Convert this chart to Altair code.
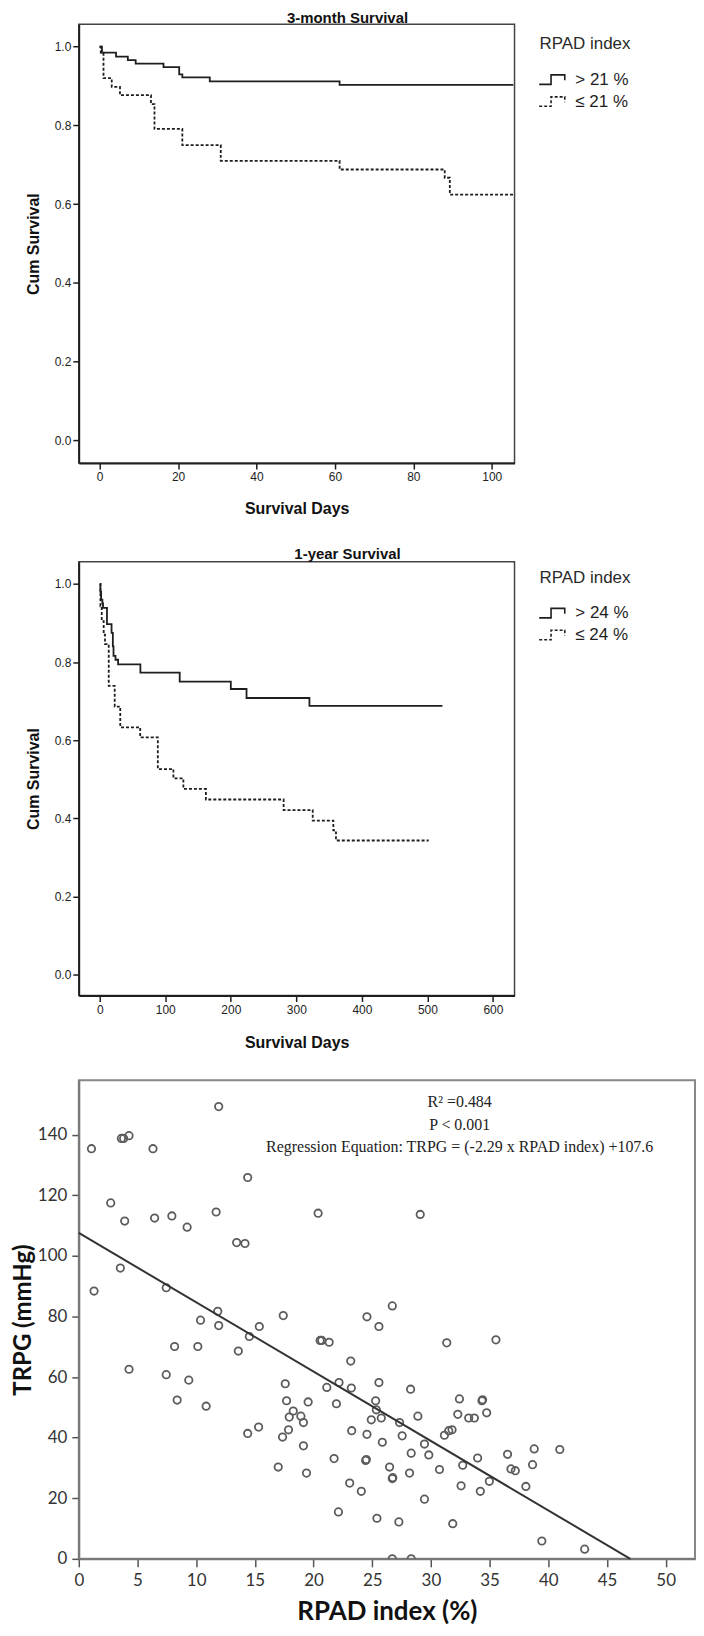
import altair as alt
import pandas as pd

# ---------------- Panel 1: 3-month survival ----------------
m3_groups = ["> 21 %", "\u2264 21 %"]
m3_hi_days = [0, 0.6, 4.2, 7.2, 9.2, 16.3, 20.3, 21.1, 28.1, 61.2, 105.5]
m3_hi_surv = [1.0, 0.985, 0.975, 0.966, 0.957, 0.948, 0.93, 0.922, 0.912, 0.903, 0.903]
m3_lo_days = [0, 0.3, 1.0, 3.1, 5.2, 13.1, 14.0, 21.1, 30.9, 61.2, 88.0, 89.3, 105.5]
m3_lo_surv = [1.0, 0.985, 0.92, 0.898, 0.877, 0.854, 0.791, 0.75, 0.71, 0.688, 0.667, 0.624, 0.624]

# ---------------- Panel 2: 1-year survival ----------------
y1_groups = ["> 24 %", "\u2264 24 %"]
y1_hi_days = [0, 1, 2, 4, 5, 11, 18, 20, 21, 24, 28, 62, 122, 200, 224, 320, 523]
y1_hi_surv = [1.0, 0.98, 0.96, 0.95, 0.939, 0.897, 0.875, 0.84, 0.816, 0.806, 0.794,
              0.773, 0.75, 0.731, 0.708, 0.688, 0.688]
y1_lo_days = [0, 1, 3, 6, 8, 13.7, 22.8, 31.3, 61.7, 88.6, 112.4, 127.6, 162, 280.6,
              325, 356.5, 360.5, 502]
y1_lo_surv = [1.0, 0.943, 0.905, 0.87, 0.846, 0.739, 0.686, 0.633, 0.607, 0.526, 0.502,
              0.475, 0.448, 0.421, 0.394, 0.369, 0.343, 0.343]

# ---------------- Panel 3: TRPG vs RPAD index ----------------
rpad = [1.08, 1.30, 2.72, 3.54, 3.63, 3.82, 4.28, 3.91, 4.28, 6.32, 6.46, 7.45, 7.45, 7.93,
        8.16, 8.38, 9.23, 9.37, 10.37, 10.14, 10.85, 11.70, 11.92, 11.84, 11.92, 13.45,
        14.16, 13.59, 14.39, 14.53, 14.39, 15.32, 15.38, 17.42, 16.99, 17.36, 17.59, 17.70,
        17.87, 17.93, 18.27, 18.92, 19.14, 19.54, 19.14, 19.40, 20.39, 20.56, 20.70, 21.33,
        21.13, 21.75, 21.95, 22.12, 22.17, 23.17, 23.22, 23.25, 23.08, 24.07,
        24.55, 25.57, 26.71, 25.57, 25.29, 25.35, 24.92, 25.77, 24.55, 25.86, 24.44, 24.50,
        26.48, 26.71, 26.75, 25.40, 27.27, 26.71, 28.32, 27.33, 27.55, 28.32, 28.18, 28.27,
        28.89, 29.09, 29.45, 29.82, 29.45, 30.73, 31.15, 31.52, 31.80, 31.35, 31.86, 32.43,
        32.29, 32.71, 32.57, 33.22, 33.70, 34.35, 34.40, 34.75, 33.98, 34.21, 34.98, 35.54,
        36.53, 36.82, 37.19, 38.09, 38.80, 38.66, 39.45, 40.98, 43.10]
trpg = [135.4, 88.4, 117.5, 96.0, 138.8, 138.8, 139.7, 111.5, 62.6, 135.4, 112.5, 89.5, 60.8,
        113.2, 70.1, 52.4, 109.5, 59.0, 78.8, 70.1, 50.4, 114.5, 149.3, 81.7, 77.0, 104.4,
        104.1, 68.6, 125.9, 73.4, 41.4, 43.5, 76.7, 80.3, 30.3, 40.2, 57.8, 52.2, 42.6, 46.8,
        48.8, 47.1, 45.0, 51.8, 37.3, 28.3, 114.1, 72.1, 72.1, 71.5, 56.6, 33.1, 51.2, 15.5,
        58.2, 65.3, 56.4, 42.3, 25.0, 22.3,
        79.9, 76.7, 83.5, 58.2, 52.2, 49.2, 45.9, 46.5, 41.1, 38.5, 32.5, 32.8, 30.3, 26.5,
        26.8, 13.4, 12.2, 0.0, 0.0, 45.0, 40.6, 34.9, 28.3, 56.0, 47.1, 113.7, 37.9, 34.3,
        19.7, 29.5, 40.8, 42.3, 42.6, 71.3, 11.6, 52.8, 47.7, 30.9, 24.1, 46.5, 46.5, 52.2,
        52.5, 48.2, 33.3, 22.3, 25.6, 72.3, 34.5, 29.7, 29.1, 23.9, 36.3, 31.1, 5.9, 36.1, 3.2]
reg_slope = -2.29
reg_intercept = 107.6
annotation = "R\u00b2 =0.484\nP < 0.001\nRegression Equation: TRPG = (-2.29 x RPAD index) +107.6"

SANS = "Liberation Sans"
INK = "#1e1e1e"
STEP_GLYPH = "M-1.1,0.38H-0.15V-0.38H0.95V0.05"


def km_frame(days_hi, surv_hi, days_lo, surv_lo, groups):
    return pd.concat([
        pd.DataFrame({"day": days_hi, "surv": surv_hi, "group": groups[0]}),
        pd.DataFrame({"day": days_lo, "surv": surv_lo, "group": groups[1]}),
    ], ignore_index=True)


def km_panel(df, title, groups, xdom, xticks, ydom, width, height, legend_y,
             title_offset, xtitle_pad):
    return alt.Chart(df).mark_line(interpolate="step-after", strokeWidth=1.8, color=INK).encode(
        x=alt.X("day:Q",
                scale=alt.Scale(domain=xdom, nice=False, zero=False),
                axis=alt.Axis(values=xticks, title="Survival Days", grid=False,
                              labelFont=SANS, labelFontSize=12, labelColor=INK, labelPadding=3,
                              labelFlush=False, tickSize=6, tickWidth=1.5, tickColor=INK,
                              domainColor=INK, domainWidth=1.8,
                              titleFont=SANS, titleFontSize=16, titleFontWeight="bold",
                              titleColor="#111", titlePadding=xtitle_pad)),
        y=alt.Y("surv:Q",
                scale=alt.Scale(domain=ydom, nice=False, zero=False),
                axis=alt.Axis(values=[0, 0.2, 0.4, 0.6, 0.8, 1.0], format=".1f",
                              title="Cum Survival", grid=False,
                              labelFont=SANS, labelFontSize=12, labelColor=INK, labelPadding=2,
                              tickSize=6, tickWidth=1.5, tickColor=INK,
                              domainColor=INK, domainWidth=1.8,
                              titleFont=SANS, titleFontSize=16, titleFontWeight="bold",
                              titleColor="#111", titlePadding=13)),
        strokeDash=alt.StrokeDash(
            "group:N",
            scale=alt.Scale(domain=groups, range=[[1, 0], [3, 2]]),
            legend=alt.Legend(title="RPAD index", orient="none", legendX=462, legendY=legend_y,
                              padding=0, symbolType=STEP_GLYPH, symbolSize=625,
                              symbolStrokeColor=INK, symbolStrokeWidth=1.6,
                              symbolFillColor="transparent", rowPadding=0,
                              labelFont=SANS, labelFontSize=17, labelColor=INK, labelOffset=9,
                              titleFont=SANS, titleFontSize=17, titleFontWeight="normal",
                              titleColor="#2a2a2a", titlePadding=13)),
    ).properties(
        width=width, height=height,
        title=alt.TitleParams(title, font=SANS, fontSize=15, fontWeight="bold", color="#111",
                              anchor="middle", frame="group", dx=51, offset=title_offset),
        view=alt.ViewBackground(stroke="#444", strokeWidth=1.5),
    )


df1 = km_frame(m3_hi_days, m3_hi_surv, m3_lo_days, m3_lo_surv, m3_groups)
df2 = km_frame(y1_hi_days, y1_hi_surv, y1_lo_days, y1_lo_surv, y1_groups)

p1 = km_panel(df1, "3-month Survival", m3_groups, [-5.3, 105.8], [0, 20, 40, 60, 80, 100],
              [-0.058, 1.057], 437, 440, 12, -2, 18)
p2 = km_panel(df2, "1-year Survival", y1_groups, [-32, 633], [0, 100, 200, 300, 400, 500, 600],
              [-0.054, 1.057], 437, 435, 8, 0, 19)

# Scatter panel
df3 = pd.DataFrame({"rpad": rpad, "trpg": trpg})
x_end = -reg_intercept / reg_slope
reg_df = pd.DataFrame({"rpad": [0.0, x_end],
                       "trpg": [reg_intercept, reg_intercept + reg_slope * x_end]})

SC_FONT = "Lato"
x3 = alt.X("rpad:Q", scale=alt.Scale(domain=[0, 52.5], nice=False),
           axis=alt.Axis(values=list(range(0, 51, 5)), title="RPAD index (%)", grid=False,
                         labelFont=SC_FONT, labelFontSize=17, labelColor="#333", labelPadding=6,
                         labelFlush=False, tickSize=8, tickWidth=1.5, tickColor="#555",
                         domainColor="#777", domainWidth=2,
                         titleFont=SC_FONT, titleFontSize=26, titleFontWeight="bold",
                         titleColor="#111", titlePadding=10))
y3 = alt.Y("trpg:Q", scale=alt.Scale(domain=[0, 158], nice=False),
           axis=alt.Axis(values=list(range(0, 141, 20)), title="TRPG (mmHg)", grid=False,
                         labelFont=SC_FONT, labelFontSize=17, labelColor="#333", labelPadding=5,
                         tickSize=7, tickWidth=1.5, tickColor="#555",
                         domainColor="#777", domainWidth=2,
                         titleFont=SC_FONT, titleFontSize=24, titleFontWeight="bold",
                         titleColor="#111", titlePadding=2))

pts = alt.Chart(df3).mark_point(shape="circle", filled=False, size=55, strokeWidth=1.8,
                                color="#5c5c5c", opacity=1, clip=True).encode(x=x3, y=y3)
reg = alt.Chart(reg_df).mark_line(color="#333", strokeWidth=2).encode(x="rpad:Q", y="trpg:Q")
txt = alt.Chart(pd.DataFrame({"t": [annotation]})).mark_text(
    font="Liberation Serif", fontSize=16, color="#222", align="center", baseline="top",
    lineBreak="\n", lineHeight=22.6
).encode(text="t:N", x=alt.value(382), y=alt.value(14))

p3 = alt.layer(pts, reg, txt).properties(
    width=618, height=480,
    view=alt.ViewBackground(stroke="#888", strokeWidth=2),
)

chart = alt.vconcat(p1, p2, p3, spacing=28).resolve_scale(
    strokeDash="independent"
).resolve_legend(
    strokeDash="independent"
).properties(
    padding={"left": 2, "top": 0, "right": 0, "bottom": 0}
).configure(background="white")

chart.save("out.html", embed_options={"renderer": "svg", "actions": False})
